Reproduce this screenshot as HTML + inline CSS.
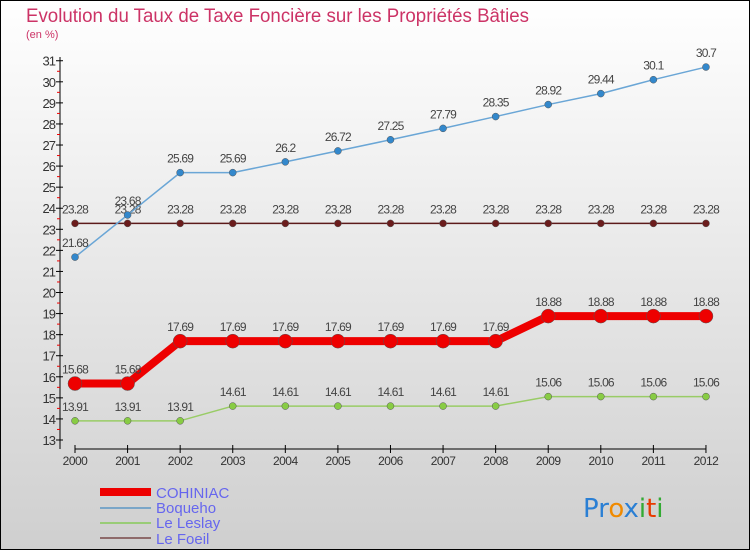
<!DOCTYPE html>
<html><head><meta charset="utf-8"><style>body{margin:0}svg{display:block;font-family:"Liberation Sans",sans-serif}</style></head>
<body>
<svg width="750" height="550" viewBox="0 0 750 550">
<defs><linearGradient id="bg" x1="0" y1="0" x2="0" y2="1"><stop offset="0" stop-color="#ffffff"/><stop offset="1" stop-color="#cfcfcf"/></linearGradient></defs>
<rect x="0.5" y="0.5" width="749" height="549" fill="url(#bg)" stroke="#000"/>
<text x="26" y="22" font-size="19" fill="#cc3366" textLength="503" lengthAdjust="spacingAndGlyphs">Evolution du Taux de Taxe Foncière sur les Propriétés Bâties</text>
<text x="26" y="38" font-size="11" fill="#cc3366">(en %)</text>
<g id="axes"></g>
<g id="series"></g>
<g>
<rect x="100" y="488" width="51" height="8" fill="#ee0000"/>
<text x="156" y="498" font-size="15" fill="#6666ee">COHINIAC</text>
<rect x="100" y="507" width="51" height="2" fill="#7aa6c8"/>
<text x="156" y="513" font-size="15" fill="#6666ee">Boqueho</text>
<rect x="100" y="522" width="51" height="2" fill="#99cc77"/>
<text x="156" y="528" font-size="15" fill="#6666ee">Le Leslay</text>
<rect x="100" y="537" width="51" height="2" fill="#8e6a6a"/>
<text x="156" y="544" font-size="15" fill="#6666ee">Le Foeil</text>
</g>
<g font-size="26" font-family="'DejaVu Sans',sans-serif">
<text x="583" y="517"><tspan fill="#2a7fd4">Pr</tspan><tspan fill="#f08a00">o</tspan><tspan fill="#2a7fd4">x</tspan><tspan fill="#33aa33">i</tspan><tspan fill="#e83a00">t</tspan><tspan fill="#33aa33">i</tspan></text>
</g>
</svg>
<script>
const years=[2000,2001,2002,2003,2004,2005,2006,2007,2008,2009,2010,2011,2012];
const cohiniac=[15.68,15.68,17.69,17.69,17.69,17.69,17.69,17.69,17.69,18.88,18.88,18.88,18.88];
const boqueho=[21.68,23.68,25.69,25.69,26.2,26.72,27.25,27.79,28.35,28.92,29.44,30.1,30.7];
const leslay=[13.91,13.91,13.91,14.61,14.61,14.61,14.61,14.61,14.61,15.06,15.06,15.06,15.06];
const foeil=[23.28,23.28,23.28,23.28,23.28,23.28,23.28,23.28,23.28,23.28,23.28,23.28,23.28];
const yTicks=[13,14,15,16,17,18,19,20,21,22,23,24,25,26,27,28,29,30,31];
const NS="http://www.w3.org/2000/svg";
const x=i=>75+i*52.58;
const y=v=>440-(v-13)*21.07;
function mk(tag,attrs,parent){const e=document.createElementNS(NS,tag);for(const k in attrs)e.setAttribute(k,attrs[k]);parent.appendChild(e);return e;}
const axes=document.getElementById('axes');
const yax=mk('line',{x1:60,y1:57,x2:60,y2:449,stroke:'#000'},axes);


yTicks.forEach(t=>{
  mk('line',{x1:56,x2:63,y1:y(t),y2:y(t),stroke:'#000'},axes);
  if(t<31)mk('line',{x1:57,x2:60,y1:y(t+0.5),y2:y(t+0.5),stroke:'#e00'},axes);
  const tx=mk('text',{x:55,y:y(t)+5,'font-size':13,'text-anchor':'end',fill:'#333','letter-spacing':'-1'},axes);
  tx.textContent=t;
  
  
});
const xax=mk('line',{x1:75,y1:449,x2:706,y2:449,stroke:'#000'},axes);


years.forEach((yr,i)=>{
  mk('line',{x1:x(i),x2:x(i),y1:445,y2:453,stroke:'#000'},axes);
  const tx=mk('text',{x:x(i),y:465,'font-size':12,'text-anchor':'middle',fill:'#333','letter-spacing':'-0.5'},axes);
  tx.textContent=yr;
  
  
});
const sg=document.getElementById('series');
function series(vals,name,color,w,r,ptColor){
  const g=mk('g',{},sg);
  
  
  mk('polyline',{points:vals.map((v,i)=>x(i)+','+y(v)).join(' '),fill:'none',stroke:color,'stroke-width':w,'stroke-linejoin':'round'},g);
  vals.forEach((v,i)=>{
    const c=mk('circle',{cx:x(i),cy:y(v),r:r,fill:ptColor,stroke:'#555','stroke-width':0.5},g);
    
    
    const t=mk('text',{x:x(i),y:y(v)-10,'font-size':12,'text-anchor':'middle',fill:'#444','letter-spacing':'-0.8'},g);
    t.textContent=String(v);
    
    
  });
}
series(foeil,'le-foeil','#5c1a1a',1.5,3.5,'#6b1c1c');
series(leslay,'le-leslay','#99cc66',1.5,3.5,'#88cc44');
series(boqueho,'boqueho','#6aa6d6',1.5,3.5,'#3388cc');
series(cohiniac,'cohiniac','#ee0000',8,7,'#ee0000');
</script>
</body></html>
